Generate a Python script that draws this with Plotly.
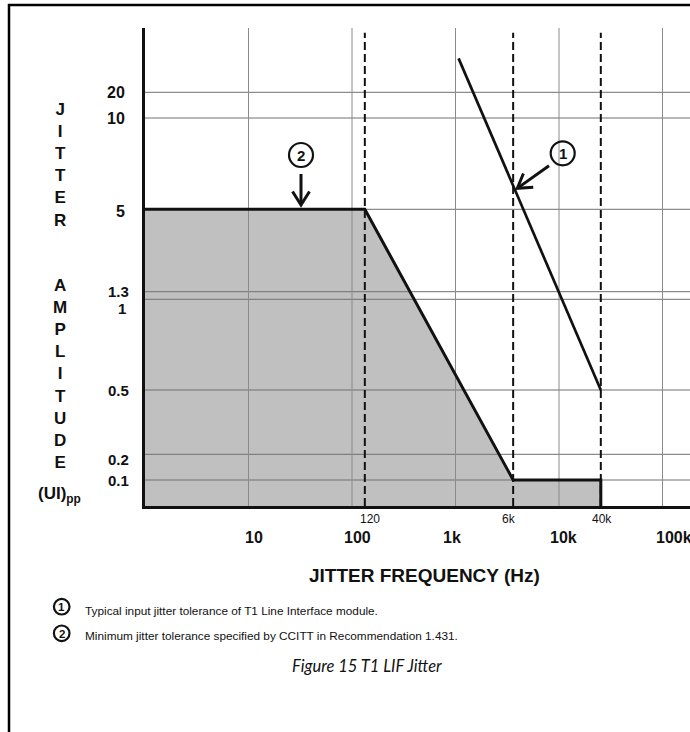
import numpy as np
import plotly.graph_objects as go

# ---------------- data ----------------
FREQ_TICKS = [10, 100, 1000, 10000, 100000]
FREQ_TICK_LABELS = ["10", "100", "1k", "10k", "100k"]
CORNER_FREQS = [120, 6000, 40000]
CORNER_LABELS = ["120", "6k", "40k"]
AMP_TICKS = [0.1, 0.2, 0.5, 1, 1.3, 5, 10, 20]
AMP_TICK_LABELS = ["0.1", "0.2", "0.5", "1", "1.3", "5", "10", "20"]

# curve 1: typical input jitter tolerance of T1 Line Interface module
LIU_FREQ = [1100, 40000]
LIU_AMP = [50, 0.5]
# curve 2: minimum jitter tolerance (CCITT mask)
MASK_FREQ = [1, 120, 6000, 40000, 40000]
MASK_AMP = [5, 5, 0.1, 0.1, 0.05]
AXIS_MIN_FREQ = 1
AXIS_MIN_AMP = 0.05
DASH_TOP_AMP = 100

FOOTNOTES = ["Typical input jitter tolerance of T1 Line Interface module.",
             "Minimum jitter tolerance specified by CCITT in Recommendation 1.431."]
CAPTION = "Figure 15 T1 LIF Jitter"

# ---------------- schematic (non-uniform) scales of the drawing ----------------
X_ANCHOR_F = [1, 10, 100, 120, 1000, 6000, 10000, 40000, 100000]
X_ANCHOR_U = [0, 1, 2, 2.124, 3, 3.557, 4, 4.404, 5]
Y_ANCHOR_A = [0.05, 0.1, 0.2, 0.5, 1, 1.3, 5, 10, 20, 100]
Y_ANCHOR_U = [0, 2.6, 5.17, 11.6, 20.67, 21.43, 29.67, 38.8, 41.37, 47.33]


def xs(f):
    return np.interp(np.log10(np.asarray(f, dtype=float)), np.log10(X_ANCHOR_F), X_ANCHOR_U)


def ys(a):
    return np.interp(np.log10(np.asarray(a, dtype=float)), np.log10(Y_ANCHOR_A), Y_ANCHOR_U)


X_RANGE = [0, 545 / 103.5]
Y_RANGE = [0, 47.8]

# plot-area geometry (pixels) for layout decorations
L, T, W, H = 145, 28, 545, 478


def px(x):
    return (x - L) / W


def py(y):
    return (T + H - y) / H


FONT = "Liberation Sans, Arial, sans-serif"
BLACK = "#111111"

fig = go.Figure()

# shaded mask area
fx = list(xs(MASK_FREQ)) + [float(xs(AXIS_MIN_FREQ))]
fy = list(ys(MASK_AMP)) + [float(ys(AXIS_MIN_AMP))]
fig.add_trace(go.Scatter(x=fx, y=fy, fill="toself", fillcolor="#c0c0c0",
                         mode="lines", line=dict(width=0), hoverinfo="skip",
                         showlegend=False))

# grid lines (drawn as traces so they sit above the shading)
gx, gy = [], []
for a in AMP_TICKS:
    gx += [X_RANGE[0], X_RANGE[1], None]
    gy += [float(ys(a)), float(ys(a)), None]
fig.add_trace(go.Scatter(x=gx, y=gy, mode="lines", line=dict(color="#707070", width=1),
                         hoverinfo="skip", showlegend=False))
vx, vy = [], []
for f in FREQ_TICKS:
    vx += [float(xs(f)), float(xs(f)), None]
    vy += [Y_RANGE[0], Y_RANGE[1], None]
fig.add_trace(go.Scatter(x=vx, y=vy, mode="lines", line=dict(color="#8a8a8a", width=1),
                         hoverinfo="skip", showlegend=False))

# dashed corner-frequency lines
dx, dy = [], []
for f in CORNER_FREQS:
    dx += [float(xs(f)), float(xs(f)), None]
    dy += [float(ys(AXIS_MIN_AMP)), float(ys(DASH_TOP_AMP)), None]
fig.add_trace(go.Scatter(x=dx, y=dy, mode="lines",
                         line=dict(color=BLACK, width=2, dash="8px,4px"),
                         hoverinfo="skip", showlegend=False))

# mask outline
fig.add_trace(go.Scatter(x=xs(MASK_FREQ), y=ys(MASK_AMP), mode="lines",
                         line=dict(color=BLACK, width=3), showlegend=False))
# typical LIU tolerance
fig.add_trace(go.Scatter(x=xs(LIU_FREQ), y=ys(LIU_AMP), mode="lines",
                         line=dict(color=BLACK, width=2.7), showlegend=False))

annotations = []
shapes = []

# y tick labels (small hand-placed offsets as in the original drawing)
NUDGE_Y = {1: -9, 0.2: -5, 5: -2}
NUDGE_YX = {1: -3}
for a, lab in zip(AMP_TICKS, AMP_TICK_LABELS):
    big = a >= 5
    annotations.append(dict(xref="paper", yref="y", x=px(127 if big else 131), y=float(ys(a)),
                            xanchor="right", yanchor="middle", showarrow=False,
                            xshift=NUDGE_YX.get(a, 0), yshift=NUDGE_Y.get(a, 0),
                            text="<b>%s</b>" % lab,
                            font=dict(family=FONT, size=16 if big else 15, color=BLACK)))

# x tick labels
NUDGE_X = {10: 5, 100: 5, 1000: -4, 10000: 4, 100000: 11}
for f, lab in zip(FREQ_TICKS, FREQ_TICK_LABELS):
    annotations.append(dict(xref="x", yref="paper", x=float(xs(f)), y=py(537),
                            xshift=NUDGE_X.get(f, 0),
                            xanchor="center", yanchor="middle", showarrow=False,
                            text="<b>%s</b>" % lab,
                            font=dict(family=FONT, size=16, color=BLACK)))
NUDGE_C = {120: 5, 6000: -4, 40000: 1}
for f, lab in zip(CORNER_FREQS, CORNER_LABELS):
    annotations.append(dict(xref="x", yref="paper", x=float(xs(f)), y=py(519),
                            xshift=NUDGE_C.get(f, 0),
                            xanchor="center", yanchor="middle", showarrow=False,
                            text=lab, font=dict(family=FONT, size=12, color=BLACK)))

# axis titles
annotations.append(dict(xref="paper", yref="paper", x=px(424), y=py(575),
                        xanchor="center", yanchor="middle", showarrow=False,
                        text="<b>JITTER FREQUENCY (Hz)</b>",
                        font=dict(family=FONT, size=19, color=BLACK)))
annotations.append(dict(xref="paper", yref="paper", x=px(60), y=py(165),
                        xanchor="center", yanchor="middle", showarrow=False,
                        text="<br>".join("<b>%s</b>" % c for c in "JITTER"),
                        font=dict(family=FONT, size=17, color=BLACK)))
annotations.append(dict(xref="paper", yref="paper", x=px(60), y=py(374),
                        xanchor="center", yanchor="middle", showarrow=False,
                        text="<br>".join("<b>%s</b>" % c for c in "AMPLITUDE"),
                        font=dict(family=FONT, size=17, color=BLACK)))
annotations.append(dict(xref="paper", yref="paper", x=px(59), y=py(495),
                        xanchor="center", yanchor="middle", showarrow=False,
                        text="<b>(UI)<sub>pp</sub></b>",
                        font=dict(family=FONT, size=17, color=BLACK)))


def circled(cx, cy, r, digit, size, lw):
    shapes.append(dict(type="circle", xref="paper", yref="paper",
                       x0=px(cx - r), x1=px(cx + r), y0=py(cy + r), y1=py(cy - r),
                       line=dict(color=BLACK, width=lw)))
    annotations.append(dict(xref="paper", yref="paper", x=px(cx), y=py(cy + 0.5),
                            xanchor="center", yanchor="middle", showarrow=False,
                            text="<b>%s</b>" % digit,
                            font=dict(family=FONT, size=size, color=BLACK)))


def arrow(x0, y0, x1, y1, head=16, ang=32, lw=3):
    d = np.array([x1 - x0, y1 - y0], dtype=float)
    d /= np.linalg.norm(d)
    back = -d
    pts = []
    for s in (1, -1):
        a = np.radians(s * ang)
        rot = np.array([back[0] * np.cos(a) - back[1] * np.sin(a),
                        back[0] * np.sin(a) + back[1] * np.cos(a)])
        pts.append((x1 + head * rot[0], y1 + head * rot[1]))
    shapes.append(dict(type="path", xref="paper", yref="paper",
                       path="M %f,%f L %f,%f" % (px(x0), py(y0), px(x1 - d[0] * 2), py(y1 - d[1] * 2)),
                       line=dict(color=BLACK, width=lw)))
    shapes.append(dict(type="path", xref="paper", yref="paper",
                       path="M %f,%f L %f,%f L %f,%f" % (px(pts[0][0]), py(pts[0][1]),
                                                         px(x1), py(y1),
                                                         px(pts[1][0]), py(pts[1][1])),
                       line=dict(color=BLACK, width=lw)))


circled(301, 155, 12, "2", 15, 2.2)
arrow(301, 174, 301, 205)
circled(562.7, 153.3, 12, "1", 15, 2.2)
arrow(549, 165.7, 517.3, 188.3)

# footnotes
circled(61.7, 606.7, 7.8, "1", 11.5, 2.2)
circled(61.7, 633.3, 7.8, "2", 11.5, 2.2)
for i, txt in enumerate(FOOTNOTES):
    annotations.append(dict(xref="paper", yref="paper", x=px(83), y=py(610.7 + i * 25.5),
                            xanchor="left", yanchor="middle", showarrow=False, text=txt,
                            font=dict(family=FONT, size=11.8, color=BLACK)))
annotations.append(dict(xref="paper", yref="paper", x=px(367), y=py(666),
                        xanchor="center", yanchor="middle", showarrow=False,
                        text="<i>%s</i>" % CAPTION,
                        font=dict(family="Lato, Noto Sans, sans-serif", size=16.5, color=BLACK)))

# page border
shapes.append(dict(type="rect", xref="paper", yref="paper",
                   x0=px(9), x1=px(720), y0=py(760), y1=py(5),
                   line=dict(color="black", width=2.5), layer="above"))

fig.update_layout(
    width=690, height=732,
    margin=dict(l=L, r=690 - L - W, t=T, b=732 - T - H),
    paper_bgcolor="white", plot_bgcolor="white",
    showlegend=False,
    xaxis=dict(range=X_RANGE, showgrid=False, zeroline=False, showticklabels=False,
               ticks="", showline=True, linecolor=BLACK, linewidth=3),
    yaxis=dict(range=Y_RANGE, showgrid=False, zeroline=False, showticklabels=False,
               ticks="", showline=True, linecolor=BLACK, linewidth=3),
    annotations=annotations,
    shapes=shapes,
)

fig.write_html("out.html", config={"displayModeBar": False},
               post_script="document.body.style.margin='0';document.body.style.overflow='hidden';")
